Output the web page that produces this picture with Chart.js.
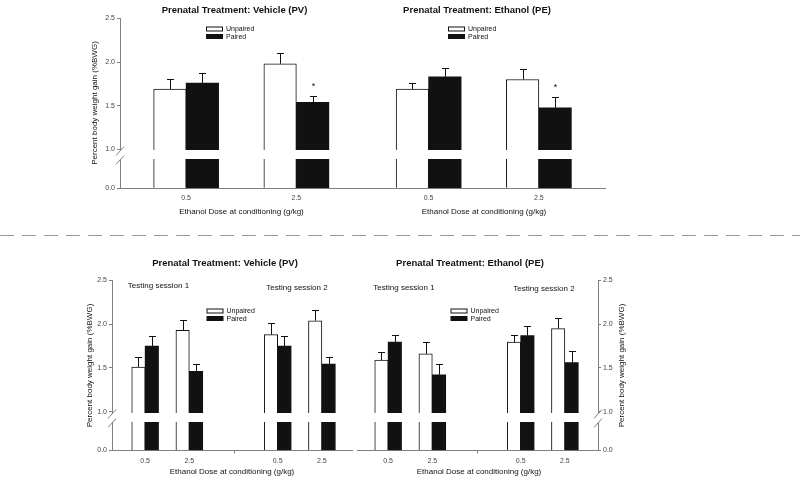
<!DOCTYPE html>
<html>
<head>
<meta charset="utf-8">
<script src="https://cdn.jsdelivr.net/npm/chart.js@4.4.1/dist/chart.umd.min.js"></script>
<style>
  body { margin: 0; background: #fff; width: 800px; height: 482px; overflow: hidden; position: relative; }
  #top { position: absolute; left: 0; top: 0; }
  #bottom { position: absolute; left: 0; top: 240px; }
  #sep { position: absolute; left: 0; top: 235px; width: 800px; height: 1px;
         background: repeating-linear-gradient(to right, #9a9a9a 0 14px, transparent 14px 22px); }
</style>
</head>
<body>
<canvas id="top" width="800" height="232"></canvas>
<div id="sep"></div>
<canvas id="bottom" width="800" height="242"></canvas>
<script>

var doses = ['0.5', '2.5'];

// top: conditioning, order PV 0.5, PV 2.5, PE 0.5, PE 2.5
var topUnpaired = [1.69, 1.98, 1.69, 1.80];
var topUnpairedSem = [0.11, 0.12, 0.07, 0.12];
var topPaired = [1.76, 1.54, 1.83, 1.475];
var topPairedSem = [0.115, 0.07, 0.10, 0.12];
var topStar = [false, true, false, true];

// bottom: testing, PV s1 (0.5, 2.5), PV s2, PE s1, PE s2
var botUnpaired = [1.51, 1.93, 1.88, 2.04, 1.59, 1.66, 1.795, 1.95];
var botUnpairedSem = [0.12, 0.12, 0.13, 0.12, 0.09, 0.14, 0.085, 0.12];
var botPaired = [1.75, 1.46, 1.75, 1.545, 1.795, 1.42, 1.87, 1.56];
var botPairedSem = [0.11, 0.08, 0.11, 0.085, 0.085, 0.13, 0.115, 0.13];

// where each dose group sits on the x axis (axis units, 0..22)
var topSlots = [3, 8, 14, 19];
var botSlots = [1.5, 3.5, 7.5, 9.5, 12.5, 14.5, 18.5, 20.5];

var FONT = '"Liberation Sans", Arial, sans-serif';
var AXIS = '#808080';
var INK = '#111';
var FLOOR = 0.555;  // the "0.0" end of the broken axis
var GAP = 0.115;    // height of the break

Chart.defaults.font.family = FONT;
Chart.defaults.color = '#333';
Chart.defaults.animation = false;

function points(vals, slots) {
	return vals.map(function (v, i) { return { x: slots[i], y: v }; });
}

function bars(unp, unpSem, pai, paiSem, slots, thick) {
	return [{
		label: 'Unpaired', data: points(unp, slots), sem: unpSem,
		backgroundColor: '#fff', borderColor: INK, borderWidth: 1,
		barThickness: thick, base: FLOOR
	}, {
		label: 'Paired', data: points(pai, slots), sem: paiSem,
		backgroundColor: INK, borderColor: INK, borderWidth: 0,
		barThickness: thick, base: FLOOR
	}];
}

function yAxis(pos) {
	return {
		type: 'linear', position: pos, min: FLOOR, max: 2.5,
		afterBuildTicks: function (s) {
			s.ticks = [FLOOR, 1, 1.5, 2, 2.5].map(function (v) { return { value: v }; });
		},
		afterFit: function (s) { s.width = 40; },
		ticks: { font: { size: 7 }, padding: 2, color: '#444',
			callback: function (v) { return v < 1 ? '0.0' : v.toFixed(1); } },
		grid: { drawOnChartArea: false, tickLength: 3, tickColor: AXIS },
		border: { color: AXIS }
	};
}

function xAxis(slots, h) {
	return {
		type: 'linear', min: 0, max: 22, offset: false,
		afterBuildTicks: function (s) {
			s.ticks = slots.map(function (v) { return { value: v }; });
		},
		afterFit: function (s) { s.height = h; },
		ticks: { autoSkip: false, maxRotation: 0, font: { size: 7 }, padding: 6, color: '#444',
			callback: function (v, i) { return doses[i % doses.length]; } },
		grid: { drawOnChartArea: false, drawTicks: false, offset: false },
		border: { color: AXIS }
	};
}

function label(ctx, str, x, y, font, align, rot) {
	ctx.save();
	ctx.translate(x, y);
	if (rot) ctx.rotate(rot);
	ctx.font = font;
	ctx.fillStyle = INK;
	ctx.textAlign = align || 'center';
	ctx.textBaseline = 'middle';
	ctx.fillText(str, 0, 0);
	ctx.restore();
}

function decor(spec) {
	return {
		id: 'decor',
		afterDatasetsDraw: function (chart) {
			var ctx = chart.ctx, a = chart.chartArea, y = chart.scales.y, x = chart.scales.x;
			var g0 = Math.round(y.getPixelForValue(1)), g1 = Math.round(y.getPixelForValue(1 - GAP));
			ctx.save();
			// break across the plot
			ctx.fillStyle = '#fff';
			ctx.fillRect(a.left - 2, g0 + 1, a.right - a.left + 4, g1 - g0 - 1);
			ctx.strokeStyle = AXIS;
			ctx.lineWidth = 1;
			spec.breakAxes.forEach(function (side) {
				var ax = side === 'left' ? a.left : a.right;
				[g0 + 2, g1 + 1].forEach(function (yy) {
					ctx.beginPath();
					ctx.moveTo(ax - 4, yy + 4.5);
					ctx.lineTo(ax + 4, yy - 4.5);
					ctx.stroke();
				});
			});
			// small marks between sessions, and the x axis break
			(spec.marks || []).forEach(function (u) {
				var px = Math.round(x.getPixelForValue(u)) + 0.5;
				ctx.beginPath(); ctx.moveTo(px, a.bottom); ctx.lineTo(px, a.bottom + 3); ctx.stroke();
			});
			(spec.xGaps || []).forEach(function (u) {
				var px = x.getPixelForValue(u);
				ctx.fillStyle = '#fff';
				ctx.fillRect(px - 2, a.bottom - 1, 4, 3);
			});
			// error bars (upper half only)
			ctx.strokeStyle = INK;
			chart.data.datasets.forEach(function (ds, di) {
				chart.getDatasetMeta(di).data.forEach(function (bar, i) {
					var bx = Math.round(bar.x) + 0.5;
					var top = Math.round(y.getPixelForValue(ds.data[i].y + ds.sem[i])) + 0.5;
					ctx.beginPath();
					ctx.moveTo(bx, bar.y);
					ctx.lineTo(bx, top);
					ctx.moveTo(bx - 3.5, top);
					ctx.lineTo(bx + 3.5, top);
					ctx.stroke();
					if (di === 1 && spec.stars && spec.stars[i]) {
						label(ctx, '*', bx, top - 10, '9px ' + FONT);
					}
				});
			});
			ctx.restore();
		},
		afterDraw: function (chart) {
			var ctx = chart.ctx;
			spec.titles.forEach(function (t) { label(ctx, t[0], t[1], t[2], 'bold 9.5px ' + FONT); });
			(spec.sessions || []).forEach(function (t) { label(ctx, t[0], t[1], t[2], '8px ' + FONT); });
			spec.xTitles.forEach(function (p) {
				label(ctx, 'Ethanol Dose at conditioning (g/kg)', p[0], p[1], '8px ' + FONT);
			});
			spec.yTitles.forEach(function (p) {
				label(ctx, 'Percent body weight gain (%BWG)', p[0], p[1], '8px ' + FONT, 'center', -Math.PI / 2);
			});
			spec.legends.forEach(function (p) {
				ctx.save();
				ctx.strokeStyle = INK;
				ctx.lineWidth = 1;
				ctx.strokeRect(p[0] + 0.5, p[1] + 0.5, 16, 4);
				ctx.fillStyle = INK;
				ctx.fillRect(p[0], p[1] + 7.5, 17, 5);
				ctx.restore();
				label(ctx, 'Unpaired', p[0] + 20, p[1] + 2.5, '7px ' + FONT, 'left');
				label(ctx, 'Paired', p[0] + 20, p[1] + 10.5, '7px ' + FONT, 'left');
			});
		}
	};
}

new Chart(document.getElementById('top'), {
	type: 'bar',
	data: { datasets: bars(topUnpaired, topUnpairedSem, topPaired, topPairedSem, topSlots, 32.5) },
	options: {
		responsive: false,
		layout: { padding: { left: 80, right: 195, top: 18.3, bottom: 0 } },
		plugins: { legend: { display: false }, tooltip: { enabled: false } },
		scales: { x: xAxis(topSlots, 43.7), y: yAxis('left') }
	},
	plugins: [decor({
		breakAxes: ['left'],
		stars: topStar,
		titles: [['Prenatal Treatment: Vehicle (PV)', 234.5, 10], ['Prenatal Treatment: Ethanol (PE)', 477, 10]],
		legends: [[206, 26.5], [448, 26.5]],
		xTitles: [[241.5, 212], [484, 212]],
		yTitles: [[95, 103]]
	})]
});

var bottomScales = { x: xAxis(botSlots, 31.5), y: yAxis('left'), y2: yAxis('right') };

new Chart(document.getElementById('bottom'), {
	type: 'bar',
	data: { datasets: bars(botUnpaired, botUnpairedSem, botPaired, botPairedSem, botSlots, 13.4) },
	options: {
		responsive: false,
		layout: { padding: { left: 72, right: 162, top: 40.5, bottom: 0 } },
		plugins: { legend: { display: false }, tooltip: { enabled: false } },
		scales: bottomScales
	},
	plugins: [decor({
		breakAxes: ['left', 'right'],
		marks: [5.5, 16.5],
		xGaps: [11],
		titles: [['Prenatal Treatment: Vehicle (PV)', 225, 23], ['Prenatal Treatment: Ethanol (PE)', 470, 23]],
		sessions: [['Testing session 1', 158.5, 45.5], ['Testing session 2', 297, 47.5],
			['Testing session 1', 404, 48], ['Testing session 2', 544, 49]],
		legends: [[206.5, 68.5], [450.5, 68.5]],
		xTitles: [[232, 232], [479, 232]],
		yTitles: [[89.5, 125.5], [621.5, 125.5]]
	})]
});
</script>
</body>
</html>
